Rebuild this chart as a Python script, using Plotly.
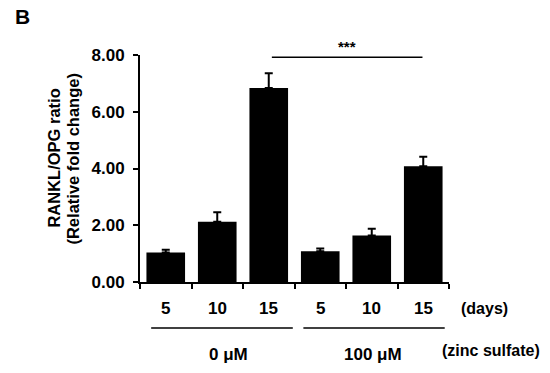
import plotly.graph_objects as go

days = ["5", "10", "15", "5", "10", "15"]
means = [1.04, 2.12, 6.84, 1.08, 1.64, 4.08]
sem = [0.10, 0.34, 0.52, 0.10, 0.24, 0.33]
groups = ["0 μM", "100 μM"]
yticks = [0, 2, 4, 6, 8]
ytick_text = ["0.00", "2.00", "4.00", "6.00", "8.00"]

FONT = "Liberation Sans, Arial, sans-serif"
x = list(range(1, len(means) + 1))

fig = go.Figure()
fig.add_trace(go.Bar(
    x=x, y=means, width=0.75,
    marker=dict(color="black", line=dict(width=0)),
    error_y=dict(type="data", array=sem, arrayminus=[0]*len(sem), symmetric=False,
                 color="black", thickness=2, width=4),
    showlegend=False,
))

# page body has an 8px margin: compensate
OFF = 8
# plot area in reference px
L, R, T, B = 139.5, 449.3, 55.0, 282.3
W, H = R - L, B - T
def px(p):
    return (p - L) / W
def py(p):
    return (B - p) / H

ann = []
# day labels
for xi, d in zip(x, days):
    ann.append(dict(x=xi, y=py(308.5), xref="x", yref="paper", text=f"<b>{d}</b>",
                    showarrow=False, font=dict(size=17, family=FONT, color="black"),
                    xanchor="center", yanchor="middle"))
ann.append(dict(x=px(459), y=py(309), xref="paper", yref="paper", text="<b>(days)</b>",
                showarrow=False, font=dict(size=16, family=FONT, color="black"),
                xanchor="left", yanchor="middle"))
# group labels
ann.append(dict(x=px(228), y=py(355), xref="paper", yref="paper", text=f"<b>{groups[0]}</b>",
                showarrow=False, font=dict(size=17, family=FONT, color="black"),
                xanchor="center", yanchor="middle"))
ann.append(dict(x=px(373), y=py(355), xref="paper", yref="paper", text=f"<b>{groups[1]}</b>",
                showarrow=False, font=dict(size=17, family=FONT, color="black"),
                xanchor="center", yanchor="middle"))
ann.append(dict(x=px(440), y=py(351), xref="paper", yref="paper", text="<b>(zinc sulfate)</b>",
                showarrow=False, font=dict(size=16, family=FONT, color="black"),
                xanchor="left", yanchor="middle"))
# y title (two lines)
ann.append(dict(x=px(53), y=py(158), xref="paper", yref="paper", text="<b>RANKL/OPG ratio</b>",
                showarrow=False, textangle=-90, font=dict(size=16.5, family=FONT, color="black"),
                xanchor="center", yanchor="middle"))
ann.append(dict(x=px(72), y=py(159), xref="paper", yref="paper", text="<b>(Relative fold change)</b>",
                showarrow=False, textangle=-90, font=dict(size=16.5, family=FONT, color="black"),
                xanchor="center", yanchor="middle"))
# significance stars
ann.append(dict(x=px(346.7), y=py(46), xref="paper", yref="paper", text="<b>***</b>",
                showarrow=False, font=dict(size=15, family=FONT, color="black"),
                xanchor="center", yanchor="middle"))
# panel letter
ann.append(dict(x=px(12), y=py(16), xref="paper", yref="paper", text="<b>B</b>",
                showarrow=False, font=dict(size=21, family=FONT, color="black"),
                xanchor="left", yanchor="middle"))

shapes = [
    dict(type="line", xref="paper", yref="paper", x0=px(150.7), x1=px(292.7), y0=py(328.3), y1=py(328.3),
         line=dict(color="black", width=1.5)),
    dict(type="line", xref="paper", yref="paper", x0=px(303.3), x1=px(445), y0=py(328.3), y1=py(328.3),
         line=dict(color="black", width=1.5)),
    dict(type="line", xref="paper", yref="paper", x0=px(271.7), x1=px(422.7), y0=py(57.3), y1=py(57.3),
         line=dict(color="black", width=1.5)),
]

fig.update_layout(
    width=550, height=373,
    margin=dict(l=L - OFF, r=550 - (R - OFF), t=T - OFF, b=373 - (B - OFF), pad=0),
    paper_bgcolor="white", plot_bgcolor="white",
    font=dict(family=FONT, color="black"),
    xaxis=dict(range=[0.5, 6.5], tickmode="array", tickvals=[0.5, 1.5, 2.5, 3.5, 4.5, 5.5, 6.5],
               ticktext=[""]*7, ticks="outside", ticklen=5, tickwidth=2, tickcolor="black",
               showline=True, linecolor="black", linewidth=2, showgrid=False, zeroline=False,
               fixedrange=True),
    yaxis=dict(range=[0, 8], tickmode="array", tickvals=yticks,
               ticktext=[f"<b>{t}</b>" for t in ytick_text],
               ticks="outside", ticklen=5, tickwidth=2, tickcolor="black",
               tickfont=dict(size=17, family=FONT, color="black"),
               showline=True, linecolor="black", linewidth=2, showgrid=False, zeroline=False,
               ticklabelstandoff=5),
    annotations=ann, shapes=shapes,
)

fig.write_html("out.html")
